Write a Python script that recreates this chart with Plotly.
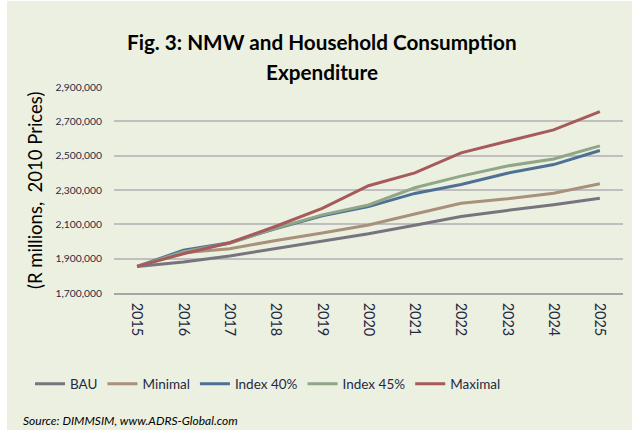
import plotly.graph_objects as go

years = ["2015", "2016", "2017", "2018", "2019", "2020", "2021", "2022", "2023", "2024", "2025"]
bau = [1855000, 1881000, 1916000, 1958000, 1999000, 2045000, 2095000, 2146000, 2181000, 2214000, 2252000]
minimal = [1855000, 1935000, 1958000, 2006000, 2049000, 2096000, 2160000, 2223000, 2249000, 2281000, 2336000]
index40 = [1855000, 1949000, 1993000, 2076000, 2150000, 2203000, 2280000, 2332000, 2398000, 2448000, 2530000]
index45 = [1855000, 1940000, 1990000, 2078000, 2155000, 2213000, 2313000, 2381000, 2440000, 2481000, 2557000]
maximal = [1855000, 1929000, 1993000, 2089000, 2193000, 2325000, 2400000, 2516000, 2584000, 2650000, 2756000]
y_ticks = [1700000, 1900000, 2100000, 2300000, 2500000, 2700000, 2900000]

series = [
    ("BAU", bau, "#77747F"),
    ("Minimal", minimal, "#A8917A"),
    ("Index 40%", index40, "#4E7096"),
    ("Index 45%", index45, "#8FA687"),
    ("Maximal", maximal, "#A65A5A"),
]

FONT = "Lato"
TXT = "#1F2A44"
PANEL = "#ECF0E1"

fig = go.Figure()
for name, vals, col in series:
    fig.add_trace(go.Scatter(x=years, y=vals, name=name, mode="lines",
                             line=dict(color=col, width=3)))

W, H = 632, 432
L, R, T, B = 114, 9, 87, 139
pw, ph = W - L - R, H - T - B

def px(x):
    return (x - L) / pw

def py(y):
    return (H - B - y) / ph

fig.update_layout(
    width=W, height=H,
    margin=dict(l=L, r=R, t=T, b=B),
    paper_bgcolor="white",
    plot_bgcolor="rgba(0,0,0,0)",
    font=dict(family=FONT, color=TXT),
    showlegend=True,
    legend=dict(orientation="h", x=px(268), y=py(384), xanchor="center", yanchor="middle",
                font=dict(size=13.5, color=TXT), bgcolor="rgba(0,0,0,0)", itemwidth=30),
    xaxis=dict(type="category", range=[-0.5, 10.5], tickangle=90, showgrid=False,
               showline=True, linecolor="#A6A6A6", linewidth=1.5, ticks="",
               ticklabelstandoff=5,
               tickfont=dict(size=14.5, color=TXT, family=FONT)),
    yaxis=dict(range=[1700000, 2900000], tickvals=y_ticks, tickformat=",d",
               showgrid=True, gridcolor="#BFBFBF", gridwidth=1.5, zeroline=False,
               showline=False, ticks="", ticklabelstandoff=11,
               tickfont=dict(size=10.3, color=TXT, family=FONT)),
    shapes=[dict(type="rect", xref="paper", yref="paper", layer="below",
                 x0=px(7), x1=px(632), y0=py(430), y1=py(1),
                 fillcolor=PANEL, line=dict(width=0))],
    annotations=[
        dict(text="<b>Fig. 3: NMW and Household Consumption</b>", xref="paper", yref="paper",
             x=px(322), y=py(42), xanchor="center", yanchor="middle", showarrow=False,
             font=dict(size=20.7, color="black", family=FONT)),
        dict(text="<b>Expenditure</b>", xref="paper", yref="paper",
             x=px(322), y=py(72), xanchor="center", yanchor="middle", showarrow=False,
             font=dict(size=20.7, color="black", family=FONT)),
        dict(text="(R millions,  2010 Prices)", xref="paper", yref="paper",
             x=px(35), y=py(191), xanchor="center", yanchor="middle", showarrow=False,
             textangle=-90, font=dict(size=18.5, color="black", family=FONT)),
        dict(text="<i>Source: DIMMSIM, www.ADRS-Global.com</i>", xref="paper", yref="paper",
             x=px(21), y=py(420), xanchor="left", yanchor="middle", showarrow=False,
             font=dict(size=12, color="black", family=FONT)),
    ],
)

fig.write_html("out.html", config={"displayModeBar": False},
               post_script="document.body.style.margin='0';")
